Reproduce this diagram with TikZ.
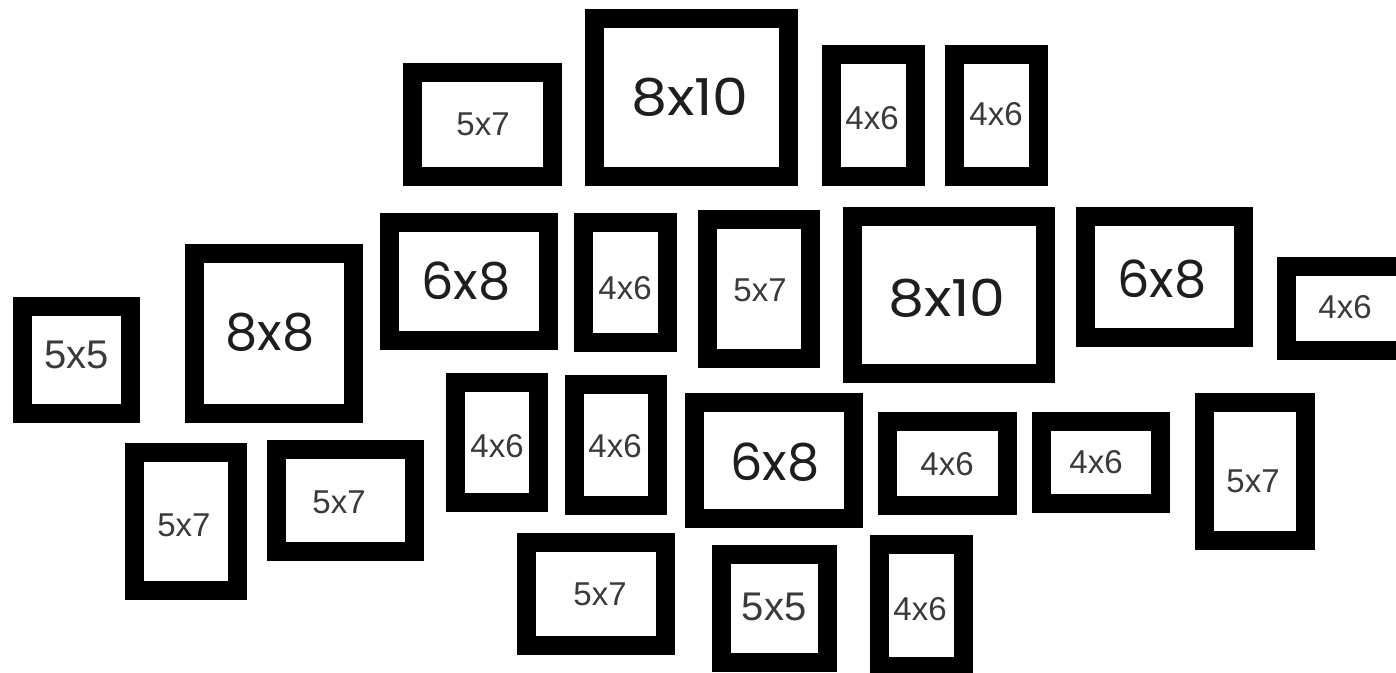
\documentclass[tikz,border=0pt]{standalone}
\usepackage{fontspec}
\setmainfont{Liberation Sans}
\newfontfamily\bigfont[Numbers=Monospaced]{Poppins}
\definecolor{ink}{HTML}{1E1E1E}
\definecolor{smallink}{HTML}{3A3A3A}
\tikzset{
  gfr/.style={draw=black, fill=white, line width=19pt, rectangle, inner sep=0pt, outer sep=0pt, line join=miter},
  lab/.style={text=smallink, inner sep=0pt, font=\fontsize{33}{33}\selectfont},
  biglab/.style={text=ink, inner sep=0pt, font=\bigfont\fontsize{51}{51}\selectfont},
  midlab/.style={text=smallink, inner sep=0pt, font=\fontsize{40}{40}\selectfont}
}
% #1 name, #2 x1, #3 y1, #4 x2, #5 y2
\newcommand\gframe[5]{%
  \node[gfr, minimum width={(#4)-(#2)-19}, minimum height={(#5)-(#3)-19}] (#1) at ({((#2)+(#4))/2},{((#3)+(#5))/2}) {};}
\begin{document}
\begin{tikzpicture}[x=1pt,y=-1pt]
\useasboundingbox (0,0) rectangle (1396,672);
\clip (0,0) rectangle (1396,672);
\fill[white] (0,0) rectangle (1396,672);
% top row
\gframe{f1}{403}{63}{562}{186}
\gframe{f2}{585}{9}{798}{186}
\gframe{f3}{822}{45}{925}{186}
\gframe{f4}{945}{45}{1048}{186}
% second row
\gframe{f5}{13}{297}{140}{423}
\gframe{f6}{185}{244}{363}{423}
\gframe{f7}{380}{213}{558}{350}
\gframe{f8}{574}{213}{677}{352}
\gframe{f9}{698}{210}{820}{368}
\gframe{f10}{843}{207}{1055}{383}
\gframe{f11}{1076}{207}{1253}{347}
\gframe{f12}{1277}{257}{1420}{360}
% third row
\gframe{f13}{125}{443}{247}{600}
\gframe{f14}{267}{440}{424}{561}
\gframe{f15}{446}{373}{548}{512}
\gframe{f16}{565}{375}{667}{515}
\gframe{f17}{685}{393}{863}{528}
\gframe{f18}{878}{412}{1017}{515}
\gframe{f19}{1032}{412}{1170}{513}
\gframe{f20}{1195}{393}{1315}{550}
% bottom row
\gframe{f21}{517}{533}{675}{655}
\gframe{f22}{712}{545}{837}{672}
\gframe{f23}{870}{535}{973}{676}
% labels
\node[lab] (t1) at (483,124) {5x7};
\node[biglab] (t2) at (690,97) {\scalebox{1.12}[1]{8x10}};
\node[lab] (t3) at (872,118) {4x6};
\node[lab] (t4) at (996,114) {4x6};
\node[midlab] (t5) at (77,355) {5x5};
\node[biglab] (t6) at (270,332) {8x8};
\node[biglab] (t7) at (466,281) {6x8};
\node[lab] (t8) at (625,288) {4x6};
\node[lab] (t9) at (760,290) {5x7};
\node[biglab] (t10) at (947,298) {\scalebox{1.12}[1]{8x10}};
\node[biglab] (t11) at (1162,279) {6x8};
\node[lab] (t12) at (1345,307) {4x6};
\node[lab] (t13) at (184,525) {5x7};
\node[lab] (t14) at (339,502) {5x7};
\node[lab] (t15) at (497,446) {4x6};
\node[lab] (t16) at (615,446) {4x6};
\node[biglab] (t17) at (775,462) {6x8};
\node[lab] (t18) at (947,464) {4x6};
\node[lab] (t19) at (1096,462) {4x6};
\node[lab] (t20) at (1253,481) {5x7};
\node[lab] (t21) at (600,594) {5x7};
\node[midlab] (t22) at (774,607) {5x5};
\node[lab] (t23) at (920,609) {4x6};
\end{tikzpicture}
\end{document}
